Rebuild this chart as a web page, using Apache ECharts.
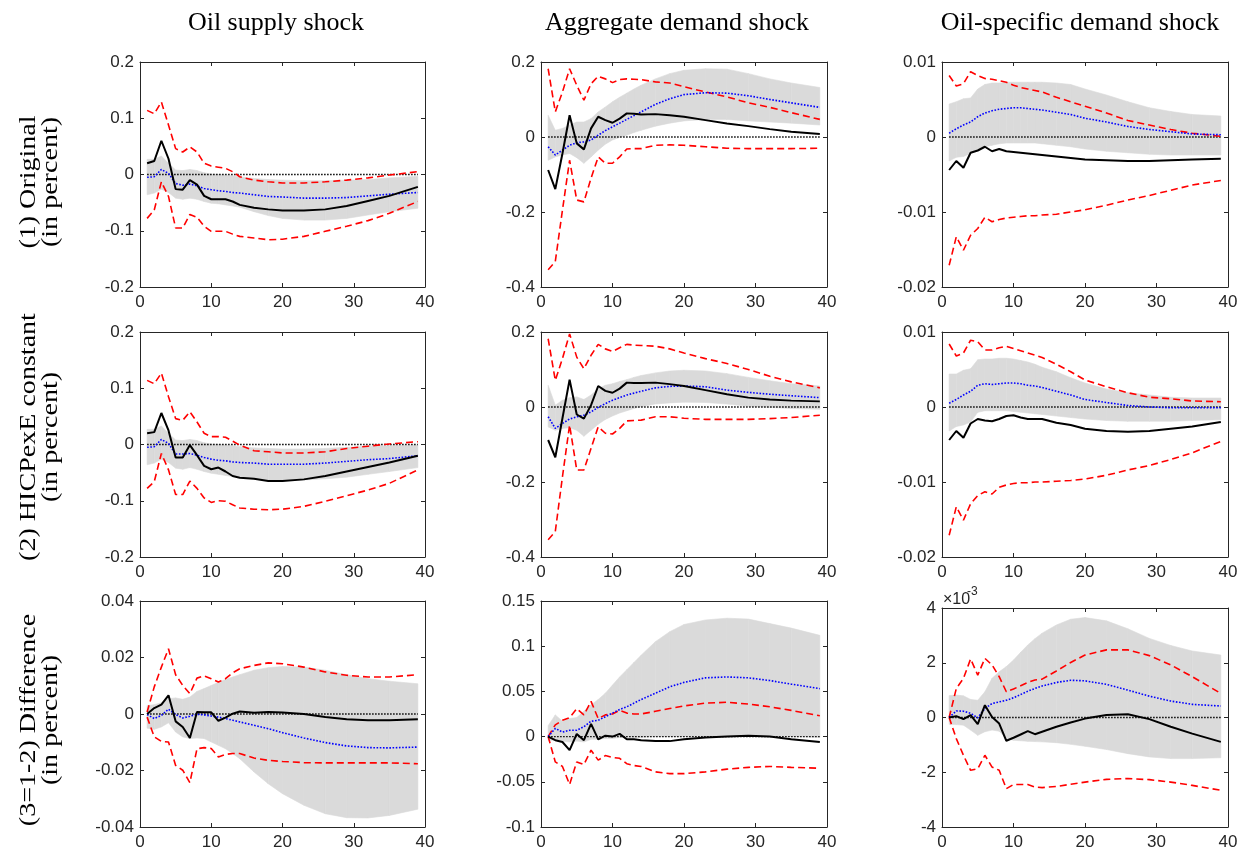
<!DOCTYPE html>
<html>
<head>
<meta charset="utf-8">
<script src="https://cdn.jsdelivr.net/npm/echarts@6/dist/echarts.min.js"></script>
<style>
html, body { margin: 0; padding: 0; background: #fff; }
#chart { width: 1247px; height: 857px; }
</style>
</head>
<body>
<div id="chart"></div>
<script>
// horizons at which the impulse responses are read
const horizon = [1,2,3,4,5,6,7,8,9,10,11,12,13,14,16,18,20,23,26,29,32,35,39];

const colTitles = ['Oil supply shock', 'Aggregate demand shock', 'Oil-specific demand shock'];
const rowTitles = [['(1) Original', '(in percent)'], ['(2) HICPexE constant', '(in percent)'], ['(3=1-2) Difference', '(in percent)']];

// (1) original
const supplyOrigBlack = [0.020,0.024,0.060,0.028,-0.026,-0.027,-0.010,-0.018,-0.038,-0.044,-0.044,-0.044,-0.048,-0.054,-0.059,-0.062,-0.064,-0.064,-0.062,-0.056,-0.047,-0.038,-0.022];
const supplyOrigBlue = [-0.005,-0.004,0.009,0.002,-0.016,-0.019,-0.017,-0.020,-0.025,-0.027,-0.029,-0.030,-0.032,-0.033,-0.036,-0.039,-0.040,-0.042,-0.042,-0.041,-0.038,-0.035,-0.032];
const supplyOrigBandHi = [0.027,0.027,0.033,0.020,0.008,0.007,0.009,0.007,0.003,0.001,0.000,-0.001,-0.002,-0.004,-0.007,-0.009,-0.010,-0.011,-0.011,-0.010,-0.009,-0.006,-0.003];
const supplyOrigBandLo = [-0.036,-0.033,-0.026,-0.032,-0.042,-0.044,-0.042,-0.044,-0.048,-0.051,-0.052,-0.054,-0.056,-0.058,-0.066,-0.073,-0.078,-0.081,-0.081,-0.078,-0.072,-0.066,-0.060];
const supplyOrigRedHi = [0.114,0.108,0.129,0.088,0.046,0.040,0.049,0.040,0.020,0.015,0.013,0.011,0.005,-0.004,-0.010,-0.013,-0.015,-0.015,-0.013,-0.010,-0.006,-0.001,0.005];
const supplyOrigRedLo = [-0.078,-0.063,-0.013,-0.039,-0.095,-0.095,-0.071,-0.076,-0.092,-0.101,-0.101,-0.101,-0.106,-0.110,-0.113,-0.116,-0.115,-0.110,-0.101,-0.092,-0.082,-0.069,-0.048];

const demandOrigBlack = [-0.088,-0.139,-0.044,0.058,-0.017,-0.033,0.023,0.054,0.045,0.038,0.049,0.063,0.062,0.060,0.061,0.058,0.054,0.045,0.036,0.029,0.021,0.014,0.008];
const demandOrigBlue = [-0.026,-0.048,-0.035,-0.022,-0.015,-0.013,-0.008,0.005,0.017,0.027,0.037,0.047,0.057,0.067,0.087,0.102,0.113,0.118,0.117,0.110,0.100,0.091,0.079];
const demandOrigBandHi = [0.058,0.018,0.023,0.032,0.040,0.040,0.049,0.067,0.080,0.094,0.106,0.117,0.128,0.138,0.155,0.169,0.178,0.182,0.181,0.169,0.155,0.144,0.132];
const demandOrigBandLo = [-0.062,-0.053,-0.048,-0.044,-0.055,-0.070,-0.053,-0.035,-0.019,-0.008,-0.001,0.005,0.012,0.018,0.029,0.037,0.043,0.047,0.047,0.043,0.040,0.037,0.032];
const demandOrigRedHi = [0.182,0.067,0.120,0.182,0.138,0.098,0.142,0.162,0.155,0.145,0.153,0.155,0.154,0.153,0.147,0.144,0.134,0.120,0.107,0.091,0.079,0.065,0.047];
const demandOrigRedLo = [-0.354,-0.332,-0.195,-0.062,-0.168,-0.173,-0.110,-0.053,-0.070,-0.070,-0.053,-0.032,-0.031,-0.031,-0.022,-0.021,-0.022,-0.026,-0.030,-0.031,-0.031,-0.031,-0.030];

const specOrigBlack = [-0.0044,-0.0032,-0.0041,-0.0021,-0.0018,-0.0013,-0.0019,-0.0016,-0.0019,-0.0020,-0.0021,-0.0022,-0.0023,-0.0024,-0.0026,-0.0028,-0.0030,-0.0031,-0.0032,-0.0032,-0.0031,-0.0030,-0.0029];
const specOrigBlue = [0.0005,0.0011,0.0016,0.0020,0.0027,0.0032,0.0035,0.0037,0.0038,0.0039,0.0039,0.0038,0.0037,0.0036,0.0033,0.0030,0.0025,0.0020,0.0014,0.0010,0.0007,0.0004,0.0003];
const specOrigBandHi = [0.0044,0.0047,0.0051,0.0052,0.0064,0.0070,0.0072,0.0072,0.0073,0.0073,0.0073,0.0073,0.0073,0.0073,0.0072,0.0070,0.0064,0.0056,0.0047,0.0039,0.0034,0.0030,0.0028];
const specOrigBandLo = [-0.0032,-0.0027,-0.0026,-0.0022,-0.0018,-0.0013,-0.0011,-0.0009,-0.0008,-0.0008,-0.0008,-0.0008,-0.0008,-0.0009,-0.0011,-0.0013,-0.0016,-0.0019,-0.0021,-0.0023,-0.0024,-0.0024,-0.0024];
const specOrigRedHi = [0.0082,0.0068,0.0071,0.0087,0.0082,0.0078,0.0077,0.0075,0.0073,0.0069,0.0066,0.0064,0.0062,0.0060,0.0053,0.0047,0.0041,0.0032,0.0022,0.0016,0.0010,0.0005,0.0001];
const specOrigRedLo = [-0.0171,-0.0133,-0.0151,-0.0131,-0.0122,-0.0107,-0.0113,-0.0110,-0.0108,-0.0107,-0.0106,-0.0105,-0.0105,-0.0104,-0.0103,-0.0100,-0.0097,-0.0091,-0.0084,-0.0078,-0.0071,-0.0064,-0.0058];

// (2) HICPexE constant
const supplyConstBlack = [0.020,0.022,0.056,0.025,-0.023,-0.023,-0.001,-0.019,-0.038,-0.044,-0.041,-0.048,-0.056,-0.059,-0.061,-0.065,-0.065,-0.062,-0.056,-0.048,-0.040,-0.032,-0.020];
const supplyConstBlue = [-0.005,-0.004,0.009,0.002,-0.017,-0.017,-0.016,-0.019,-0.023,-0.026,-0.028,-0.029,-0.031,-0.032,-0.033,-0.035,-0.035,-0.035,-0.033,-0.030,-0.027,-0.025,-0.020];
const supplyConstBandHi = [0.027,0.027,0.033,0.020,0.008,0.007,0.009,0.007,0.003,0.001,0.000,-0.001,-0.002,-0.004,-0.006,-0.007,-0.008,-0.008,-0.007,-0.005,-0.003,-0.002,-0.001];
const supplyConstBandLo = [-0.036,-0.033,-0.026,-0.032,-0.042,-0.044,-0.041,-0.044,-0.048,-0.051,-0.053,-0.055,-0.057,-0.058,-0.061,-0.063,-0.064,-0.063,-0.061,-0.058,-0.053,-0.048,-0.041];
const supplyConstRedHi = [0.114,0.108,0.127,0.085,0.046,0.043,0.058,0.040,0.020,0.014,0.014,0.013,0.006,-0.001,-0.011,-0.013,-0.015,-0.015,-0.013,-0.007,-0.003,0.001,0.005];
const supplyConstRedLo = [-0.078,-0.066,-0.016,-0.045,-0.089,-0.089,-0.065,-0.078,-0.095,-0.103,-0.100,-0.101,-0.107,-0.113,-0.115,-0.116,-0.115,-0.110,-0.101,-0.091,-0.081,-0.069,-0.045];

const demandConstBlack = [-0.088,-0.134,-0.030,0.073,-0.020,-0.031,0.005,0.056,0.043,0.038,0.049,0.065,0.064,0.064,0.065,0.061,0.056,0.045,0.034,0.025,0.020,0.017,0.015];
const demandConstBlue = [-0.026,-0.057,-0.044,-0.032,-0.026,-0.022,-0.013,-0.001,0.009,0.018,0.025,0.032,0.037,0.042,0.051,0.055,0.056,0.054,0.045,0.039,0.034,0.030,0.025];
const demandConstBandHi = [0.058,0.005,0.018,0.025,0.027,0.020,0.032,0.049,0.058,0.062,0.068,0.073,0.079,0.084,0.091,0.096,0.098,0.096,0.089,0.079,0.070,0.062,0.056];
const demandConstBandLo = [-0.053,-0.062,-0.057,-0.055,-0.062,-0.078,-0.062,-0.046,-0.033,-0.024,-0.016,-0.010,-0.004,0.001,0.008,0.011,0.013,0.012,0.008,0.002,-0.001,-0.004,-0.006];
const demandConstRedHi = [0.182,0.071,0.129,0.195,0.133,0.102,0.138,0.167,0.155,0.148,0.158,0.167,0.165,0.164,0.162,0.155,0.144,0.129,0.116,0.100,0.082,0.067,0.051];
const demandConstRedLo = [-0.354,-0.332,-0.186,-0.048,-0.168,-0.168,-0.110,-0.053,-0.070,-0.072,-0.057,-0.037,-0.036,-0.035,-0.026,-0.026,-0.030,-0.033,-0.033,-0.033,-0.031,-0.028,-0.022];

const specConstBlack = [-0.0044,-0.0032,-0.0041,-0.0022,-0.0016,-0.0018,-0.0019,-0.0016,-0.0012,-0.0011,-0.0014,-0.0016,-0.0016,-0.0016,-0.0021,-0.0024,-0.0029,-0.0032,-0.0033,-0.0032,-0.0029,-0.0026,-0.0020];
const specConstBlue = [0.0005,0.0010,0.0016,0.0021,0.0029,0.0031,0.0030,0.0031,0.0032,0.0032,0.0031,0.0029,0.0028,0.0026,0.0021,0.0016,0.0010,0.0006,0.0002,0.0000,-0.0001,-0.0001,-0.0001];
const specConstBandHi = [0.0044,0.0044,0.0049,0.0051,0.0063,0.0064,0.0064,0.0065,0.0065,0.0064,0.0062,0.0060,0.0057,0.0053,0.0047,0.0039,0.0032,0.0024,0.0019,0.0016,0.0013,0.0012,0.0012];
const specConstBandLo = [-0.0032,-0.0026,-0.0024,-0.0020,-0.0007,-0.0005,-0.0005,-0.0005,-0.0005,-0.0006,-0.0007,-0.0008,-0.0009,-0.0010,-0.0012,-0.0014,-0.0016,-0.0018,-0.0019,-0.0019,-0.0019,-0.0018,-0.0017];
const specConstRedHi = [0.0084,0.0068,0.0072,0.0089,0.0087,0.0076,0.0076,0.0079,0.0081,0.0078,0.0075,0.0072,0.0069,0.0066,0.0057,0.0047,0.0036,0.0027,0.0019,0.0013,0.0011,0.0008,0.0007];
const specConstRedLo = [-0.0171,-0.0133,-0.0151,-0.0129,-0.0118,-0.0113,-0.0116,-0.0107,-0.0104,-0.0102,-0.0101,-0.0101,-0.0100,-0.0100,-0.0099,-0.0098,-0.0096,-0.0091,-0.0084,-0.0078,-0.0070,-0.0061,-0.0046];

// (3) difference
const supplyDiffBlack = [0,0.0021,0.0033,0.0066,-0.0026,-0.0046,-0.0085,0.0007,0.0006,0.0006,-0.0024,-0.0013,0.0001,0.0009,0.0004,0.0007,0.0005,0,-0.0011,-0.0019,-0.0022,-0.0022,-0.0019];
const supplyDiffBlue = [-0.0002,-0.0016,-0.0005,0.0017,-0.0002,-0.0014,-0.0008,-0.0001,-0.0003,-0.0007,-0.0011,-0.0016,-0.0022,-0.0028,-0.0040,-0.0052,-0.0066,-0.0085,-0.0101,-0.0113,-0.0119,-0.0120,-0.0117];
const supplyDiffBandHi = [0.0030,0.0033,0.0040,0.0054,0.0057,0.0052,0.0060,0.0080,0.0090,0.0101,0.0112,0.0122,0.0131,0.0139,0.0155,0.0164,0.0168,0.0166,0.0155,0.0139,0.0125,0.0116,0.0107];
const supplyDiffBandLo = [-0.0050,-0.0054,-0.0046,-0.0031,-0.0064,-0.0081,-0.0087,-0.0085,-0.0087,-0.0099,-0.0111,-0.0123,-0.0140,-0.0158,-0.0205,-0.0247,-0.0282,-0.0323,-0.0353,-0.0367,-0.0368,-0.0359,-0.0337];
const supplyDiffRedHi = [0.0007,0.0096,0.0166,0.0231,0.0139,0.0101,0.0072,0.0127,0.0135,0.0125,0.0113,0.0125,0.0146,0.0160,0.0172,0.0181,0.0178,0.0166,0.0149,0.0137,0.0131,0.0131,0.0139];
const supplyDiffRedLo = [-0.0011,-0.0081,-0.0097,-0.0099,-0.0182,-0.0199,-0.0243,-0.0123,-0.0119,-0.0122,-0.0152,-0.0143,-0.0140,-0.0140,-0.0156,-0.0164,-0.0168,-0.0172,-0.0173,-0.0173,-0.0173,-0.0173,-0.0176];

const demandDiffBlack = [0,-0.004,-0.006,-0.015,0.003,-0.004,0.014,-0.003,0.001,0,0.003,-0.003,-0.003,-0.004,-0.005,-0.005,-0.003,-0.001,0,0.001,0,-0.003,-0.006];
const demandDiffBlue = [0,0.009,0.005,0.007,0.007,0.011,0.017,0.018,0.022,0.026,0.030,0.033,0.037,0.041,0.048,0.055,0.060,0.065,0.066,0.065,0.062,0.058,0.053];
const demandDiffBandHi = [0.012,0.024,0.017,0.020,0.021,0.028,0.035,0.041,0.048,0.057,0.066,0.074,0.082,0.090,0.105,0.116,0.124,0.129,0.131,0.130,0.125,0.120,0.112];
const demandDiffBandLo = [-0.004,-0.004,-0.005,-0.006,-0.005,-0.006,-0.003,-0.003,-0.002,-0.002,-0.001,-0.001,-0.001,-0.001,0,0,0,0,0,0,0,0,-0.001];
const demandDiffRedHi = [0,0.013,0.018,0.021,0.031,0.024,0.039,0.020,0.024,0.025,0.029,0.026,0.025,0.025,0.028,0.031,0.034,0.037,0.038,0.036,0.033,0.029,0.023];
const demandDiffRedLo = [0,-0.028,-0.033,-0.053,-0.028,-0.031,-0.015,-0.026,-0.021,-0.023,-0.024,-0.030,-0.032,-0.033,-0.039,-0.041,-0.041,-0.039,-0.036,-0.034,-0.033,-0.034,-0.035];

// oil-specific difference, in units of 10^-3
const specDiffBlack = [0,0.05,-0.06,0.09,-0.24,0.45,0.02,-0.22,-0.85,-0.74,-0.62,-0.50,-0.61,-0.52,-0.34,-0.18,-0.04,0.09,0.12,-0.06,-0.34,-0.59,-0.89];
const specDiffBlue = [0,0.24,0.23,0.15,-0.01,0.33,0.51,0.57,0.63,0.72,0.84,0.96,1.06,1.15,1.28,1.36,1.34,1.21,1.00,0.78,0.60,0.48,0.42];
const specDiffBandHi = [0.80,0.82,0.79,0.66,0.63,0.94,1.43,1.67,1.86,2.10,2.38,2.65,2.88,3.08,3.38,3.59,3.65,3.53,3.24,2.89,2.63,2.43,2.28];
const specDiffBandLo = [-0.25,-0.26,-0.28,-0.46,-0.65,-0.52,-0.46,-0.50,-0.77,-0.83,-0.85,-0.87,-0.88,-0.89,-0.92,-0.98,-1.05,-1.17,-1.32,-1.44,-1.50,-1.50,-1.47];
const specDiffRedHi = [0,1.06,1.43,2.14,1.55,2.16,1.92,1.49,0.94,1.04,1.16,1.28,1.37,1.40,1.70,2.01,2.28,2.47,2.47,2.26,1.92,1.49,0.88];
const specDiffRedLo = [0,-0.77,-1.38,-1.93,-1.87,-1.38,-1.81,-1.93,-2.60,-2.45,-2.45,-2.45,-2.54,-2.56,-2.52,-2.44,-2.36,-2.26,-2.23,-2.27,-2.36,-2.48,-2.66];

const panels = [
    { black: supplyOrigBlack, blue: supplyOrigBlue, hi: supplyOrigBandHi, lo: supplyOrigBandLo, redHi: supplyOrigRedHi, redLo: supplyOrigRedLo, min: -0.2, max: 0.2, step: 0.1 },
    { black: demandOrigBlack, blue: demandOrigBlue, hi: demandOrigBandHi, lo: demandOrigBandLo, redHi: demandOrigRedHi, redLo: demandOrigRedLo, min: -0.4, max: 0.2, step: 0.2 },
    { black: specOrigBlack, blue: specOrigBlue, hi: specOrigBandHi, lo: specOrigBandLo, redHi: specOrigRedHi, redLo: specOrigRedLo, min: -0.02, max: 0.01, step: 0.01 },
    { black: supplyConstBlack, blue: supplyConstBlue, hi: supplyConstBandHi, lo: supplyConstBandLo, redHi: supplyConstRedHi, redLo: supplyConstRedLo, min: -0.2, max: 0.2, step: 0.1 },
    { black: demandConstBlack, blue: demandConstBlue, hi: demandConstBandHi, lo: demandConstBandLo, redHi: demandConstRedHi, redLo: demandConstRedLo, min: -0.4, max: 0.2, step: 0.2 },
    { black: specConstBlack, blue: specConstBlue, hi: specConstBandHi, lo: specConstBandLo, redHi: specConstRedHi, redLo: specConstRedLo, min: -0.02, max: 0.01, step: 0.01 },
    { black: supplyDiffBlack, blue: supplyDiffBlue, hi: supplyDiffBandHi, lo: supplyDiffBandLo, redHi: supplyDiffRedHi, redLo: supplyDiffRedLo, min: -0.04, max: 0.04, step: 0.02 },
    { black: demandDiffBlack, blue: demandDiffBlue, hi: demandDiffBandHi, lo: demandDiffBandLo, redHi: demandDiffRedHi, redLo: demandDiffRedLo, min: -0.1, max: 0.15, step: 0.05 },
    { black: specDiffBlack, blue: specDiffBlue, hi: specDiffBandHi, lo: specDiffBandLo, redHi: specDiffRedHi, redLo: specDiffRedLo, min: -4, max: 4, step: 2 }
];

const colLeft = [140, 541, 942];
const colWidth = [285, 286, 286];
const rowTop = [62, 332, 601];
const rowHeight = [225, 225, 226];

const axisColor = '#262626';
const bandColor = '#dadada';
const labelFont = { color: axisColor, fontFamily: 'Liberation Sans', fontSize: 17 };

const grids = [], xAxes = [], yAxes = [], series = [];

function pairs(arr) {
    return horizon.map((h, i) => [h, arr[i]]);
}

function frame(extra) {
    return Object.assign({
        axisLine: { show: true, onZero: false, lineStyle: { color: axisColor, width: 1 } },
        axisTick: { show: true, inside: true, length: 4, lineStyle: { color: axisColor } },
        splitLine: { show: false }
    }, extra);
}

// band drawn as one quad per step between consecutive horizons
function bandItem(params, api) {
    const a = api.coord([api.value(0), api.value(1)]);
    const b = api.coord([api.value(3), api.value(4)]);
    const c = api.coord([api.value(3), api.value(5)]);
    const d = api.coord([api.value(0), api.value(2)]);
    return {
        type: 'polygon',
        shape: { points: [a, b, c, d] },
        style: { fill: bandColor, stroke: bandColor, lineWidth: 0.6 }
    };
}

panels.forEach((p, k) => {
    const r = Math.floor(k / 3), c = k % 3;
    let top = rowTop[r], height = rowHeight[r];
    if (k === 8) { top = 608; height = 219; }
    grids.push({ left: colLeft[c], top: top, width: colWidth[c], height: height });

    const bottomX = 2 * k, leftY = 2 * k;
    xAxes.push(frame({ type: 'value', gridIndex: k, position: 'bottom', min: 0, max: 40, interval: 10,
        axisLabel: Object.assign({ margin: 7 }, labelFont) }));
    xAxes.push(frame({ type: 'value', gridIndex: k, position: 'top', min: 0, max: 40, interval: 10,
        axisLabel: { show: false } }));
    yAxes.push(frame({ type: 'value', gridIndex: k, position: 'left', min: p.min, max: p.max, interval: p.step,
        axisLabel: Object.assign({ margin: 6 }, labelFont) }));
    yAxes.push(frame({ type: 'value', gridIndex: k, position: 'right', min: p.min, max: p.max, interval: p.step,
        axisLabel: { show: false } }));

    const base = { type: 'line', xAxisIndex: bottomX, yAxisIndex: leftY, symbol: 'none', silent: true };

    const bandData = [];
    for (let i = 0; i < horizon.length - 1; i++) {
        bandData.push([horizon[i], p.lo[i], p.hi[i], horizon[i + 1], p.lo[i + 1], p.hi[i + 1]]);
    }
    series.push({ type: 'custom', xAxisIndex: bottomX, yAxisIndex: leftY, silent: true, clip: true,
        renderItem: bandItem, encode: { x: [0, 3], y: [1, 2, 4, 5] }, data: bandData });

    series.push(Object.assign({}, base, { data: pairs(p.lo.map(() => 0)),
        lineStyle: { color: '#000', width: 1.3, type: [1.5, 1.5] } }));
    series.push(Object.assign({}, base, { data: pairs(p.redHi),
        lineStyle: { color: '#ff0000', width: 1.6, type: [7, 4] } }));
    series.push(Object.assign({}, base, { data: pairs(p.redLo),
        lineStyle: { color: '#ff0000', width: 1.6, type: [7, 4] } }));
    series.push(Object.assign({}, base, { data: pairs(p.blue),
        lineStyle: { color: '#0000ff', width: 1.6, type: [1.6, 1.6] } }));
    series.push(Object.assign({}, base, { data: pairs(p.black),
        lineStyle: { color: '#000', width: 2 } }));
});

const serif = 'Liberation Serif';
const graphics = [];
const titleX = [276, 677, 1080];
colTitles.forEach((t, i) => {
    graphics.push({ type: 'text', x: titleX[i], y: 23, style: { text: t, fill: '#000', font: '26px "' + serif + '"',
        align: 'center', verticalAlign: 'middle', textAlign: 'center', textVerticalAlign: 'middle' } });
});
const rowCenter = [182, 437, 720];
rowTitles.forEach((lines, i) => {
    lines.forEach((t, j) => {
        graphics.push({ type: 'text', x: 29 + j * 22, y: rowCenter[i], rotation: Math.PI / 2, scaleX: 1.22,
            style: { text: t, fill: '#000', font: '23px "' + serif + '"',
                align: 'center', verticalAlign: 'middle', textAlign: 'center', textVerticalAlign: 'middle' } });
    });
});
graphics.push({ type: 'text', x: 943, y: 600, style: { text: '\u00d710', fill: axisColor, font: '16px "Liberation Sans"',
    align: 'left', verticalAlign: 'middle', textAlign: 'left', textVerticalAlign: 'middle' } });
graphics.push({ type: 'text', x: 967, y: 592, style: { text: '-3', fill: axisColor, font: '12px "Liberation Sans"',
    align: 'left', verticalAlign: 'middle', textAlign: 'left', textVerticalAlign: 'middle' } });

const chart = echarts.init(document.getElementById('chart'));
chart.setOption({
    animation: false,
    backgroundColor: '#fff',
    grid: grids,
    xAxis: xAxes,
    yAxis: yAxes,
    series: series,
    graphic: graphics
});
</script>
</body>
</html>
